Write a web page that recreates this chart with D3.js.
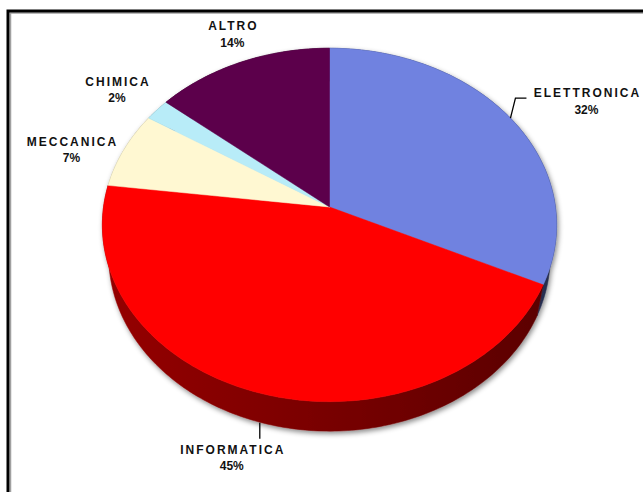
<!DOCTYPE html>
<html>
<head>
<meta charset="utf-8">
<script src="https://cdn.jsdelivr.net/npm/d3@7/dist/d3.min.js"></script>
<style>
  html, body { margin: 0; padding: 0; background: #ffffff; }
  svg { display: block; }
</style>
</head>
<body>
<script>
// ---- data ----
const categories = ["ELETTRONICA", "INFORMATICA", "MECCANICA", "CHIMICA", "ALTRO"];
const values = [32, 45, 7, 2, 14];
const percentLabels = ["32%", "45%", "7%", "2%", "14%"];

// ---- style / layout ----
const sliceColors = ["#6f82e0", "#ff0000", "#fff8d2", "#b8ecf8", "#5c004c"];
const W = 643, H = 492;
const cx = 329.5, cy = 207;            // projected pie centre
const F = 1410, Dist = 6.24;           // perspective
const sinT = 0.774, cosT = 0.633;      // tilt
const depth = 0.23;                    // pie thickness (radius units)
const halfWidth = 226;
// label offsets from the rim point at each slice's mid angle
const labelNudge = [[76, -21], [-30, 31], [-52.5, -4], [-40, -24], [-9, -32]];
const leaderPaths = [[[0, 0], [5, -20], [16, -20]], [[-2, 0], [-2, 16]], null, null, null];

const svg = d3.select("body").append("svg").attr("width", W).attr("height", H);

const defs = svg.append("defs");
const filt = defs.append("filter").attr("id", "shadow")
  .attr("x", "-10%").attr("y", "-10%").attr("width", "120%").attr("height", "125%");
filt.append("feDropShadow").attr("dx", 1.5).attr("dy", 2.5)
  .attr("stdDeviation", 2.5).attr("flood-color", "#000").attr("flood-opacity", 0.45);

// frame
svg.append("path").attr("d", `M10.5,${H} V13 H${W}`)
  .attr("fill", "none").attr("stroke", "#a0a0a0").attr("stroke-width", 1.5);
svg.append("path").attr("d", `M8,${H} V11 H${W}`)
  .attr("fill", "none").attr("stroke", "#000").attr("stroke-width", 3);

function project(a, rho, Y) {
  const X = rho * Math.sin(a), Z = rho * Math.cos(a);
  const xc = X, yc = Z * sinT + Y * cosT, zc = Dist + Z * cosT - Y * sinT;
  return [cx + F * xc / zc, cy - F * yc / zc];
}

const pie = d3.pie().sort(null).startAngle(0).endAngle(2 * Math.PI);
const arcs = pie(values);
const line = d3.line();

// side-wall gradients (lighter on the left, darker on the right)
sliceColors.forEach((c, i) => {
  const base = d3.rgb(c);
  const grad = defs.append("linearGradient").attr("id", "wall" + i)
    .attr("gradientUnits", "userSpaceOnUse")
    .attr("x1", cx - halfWidth - 4).attr("x2", cx + halfWidth + 4)
    .attr("y1", 0).attr("y2", 0);
  for (let k = 0; k <= 10; k++) {
    const t = -1 + 2 * k / 10;
    const f = 0.47 - 0.12 * t;
    grad.append("stop").attr("offset", k / 10)
      .attr("stop-color", d3.rgb(base.r * f, base.g * f, base.b * f).formatHex());
  }
});

const g = svg.append("g").attr("filter", "url(#shadow)");

// walls
const wallG = g.append("g");
arcs.forEach((d, i) => {
  const n = Math.max(2, Math.ceil((d.endAngle - d.startAngle) / (Math.PI / 180)));
  const top = [], bot = [];
  for (let k = 0; k <= n; k++) {
    const a = d.startAngle + (d.endAngle - d.startAngle) * k / n;
    top.push(project(a, 1, 0));
    bot.push(project(a, 1, -depth));
  }
  wallG.append("path").attr("d", line(top.concat(bot.reverse())) + "Z")
    .attr("fill", `url(#wall${i})`).attr("stroke", `url(#wall${i})`).attr("stroke-width", 0.5);
});

// top faces
const topG = g.append("g");
arcs.forEach((d, i) => {
  const pts = [project(0, 0, 0)];
  const n = Math.max(2, Math.ceil((d.endAngle - d.startAngle) / (Math.PI / 180)));
  for (let k = 0; k <= n; k++) {
    const a = d.startAngle + (d.endAngle - d.startAngle) * k / n;
    pts.push(project(a, 1, 0));
  }
  topG.append("path").attr("d", line(pts) + "Z")
    .attr("fill", sliceColors[i]).attr("stroke", sliceColors[i]).attr("stroke-width", 0.5);
});

// labels
const lblG = svg.append("g")
  .attr("font-family", "'Liberation Sans', Arial, sans-serif")
  .attr("font-weight", "bold").attr("font-size", 12).attr("fill", "#111");
arcs.forEach((d, i) => {
  const mid = (d.startAngle + d.endAngle) / 2;
  const front = Math.cos(mid) < -0.5;
  const rim = front ? project(mid, 1, -depth) : project(mid, 1, 0);
  if (leaderPaths[i]) {
    svg.append("path")
      .attr("d", line(leaderPaths[i].map(p => [rim[0] + p[0], rim[1] + p[1]])))
      .attr("fill", "none").attr("stroke", "#000").attr("stroke-width", 1.3);
  }
  const lx = rim[0] + labelNudge[i][0], ly = rim[1] + labelNudge[i][1];
  lblG.append("text").attr("x", lx + 1).attr("y", ly).attr("text-anchor", "middle")
    .attr("letter-spacing", 2).text(categories[i]);
  lblG.append("text").attr("x", lx).attr("y", ly + 16.5).attr("text-anchor", "middle")
    .text(percentLabels[i]);
});
</script>
</body>
</html>
